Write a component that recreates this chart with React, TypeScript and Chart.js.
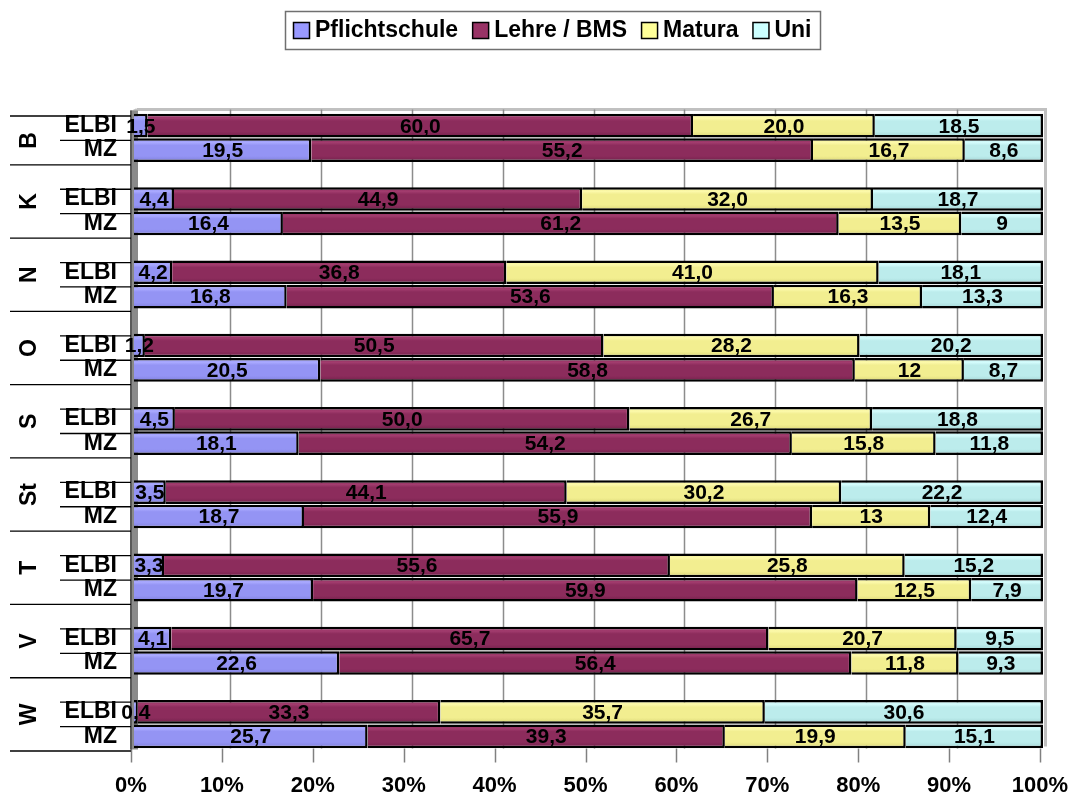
import React, { useEffect, useRef } from "react";
import { Chart, registerables } from "chart.js";

Chart.register(...registerables);

const regions = ["B", "K", "N", "O", "S", "St", "T", "V", "W"];
const rowKinds = ["ELBI", "MZ"];
const seriesNames = ["Pflichtschule", "Lehre / BMS", "Matura", "Uni"];

const pflichtELBI = [1.5, 4.4, 4.2, 1.2, 4.5, 3.5, 3.3, 4.1, 0.4];
const lehreELBI = [60.0, 44.9, 36.8, 50.5, 50.0, 44.1, 55.6, 65.7, 33.3];
const maturaELBI = [20.0, 32.0, 41.0, 28.2, 26.7, 30.2, 25.8, 20.7, 35.7];
const uniELBI = [18.5, 18.7, 18.1, 20.2, 18.8, 22.2, 15.2, 9.5, 30.6];

const pflichtMZ = [19.5, 16.4, 16.8, 20.5, 18.1, 18.7, 19.7, 22.6, 25.7];
const lehreMZ = [55.2, 61.2, 53.6, 58.8, 54.2, 55.9, 59.9, 56.4, 39.3];
const maturaMZ = [16.7, 13.5, 16.3, 12, 15.8, 13, 12.5, 11.8, 19.9];
const uniMZ = [8.6, 9, 13.3, 8.7, 11.8, 12.4, 7.9, 9.3, 15.1];

const FONT = "'Liberation Sans', Arial, sans-serif";
const legendColors = ["#9999ff", "#993366", "#ffff99", "#ccffff"];
const shades = [
  ["#a9a9ff", "#9494f4", "#7e7edb"],
  ["#a23c6e", "#8c2c5c", "#71204a"],
  ["#fcf9aa", "#f2ee90", "#d8d476"],
  ["#d4fcfc", "#bcecec", "#a2d4d4"],
];

// Build rows: B-ELBI, B-MZ, (blank), K-ELBI, K-MZ, ...
const elbiSeries = [pflichtELBI, lehreELBI, maturaELBI, uniELBI];
const mzSeries = [pflichtMZ, lehreMZ, maturaMZ, uniMZ];
const rowLabels: string[] = [];
const rawRows: (number[] | null)[] = [];
const rowIsElbi: boolean[] = [];
regions.forEach((_, g) => {
  if (g > 0) {
    rowLabels.push("");
    rawRows.push(null);
    rowIsElbi.push(false);
  }
  rowLabels.push(rowKinds[0]);
  rawRows.push(elbiSeries.map((s) => s[g]));
  rowIsElbi.push(true);
  rowLabels.push(rowKinds[1]);
  rawRows.push(mzSeries.map((s) => s[g]));
  rowIsElbi.push(false);
});

function fmt(v: number, elbi: boolean) {
  const s = elbi ? v.toFixed(1) : String(v);
  return s.replace(".", ",");
}

const BAR_PCT = 0.97;

function bg(si: number) {
  return (c: any) => {
    const chart = c.chart;
    const ys = chart.scales && chart.scales.y;
    if (!chart.chartArea || !ys || c.dataIndex == null) return shades[si][1];
    const slot = (ys.bottom - ys.top) / rowLabels.length;
    const yc = ys.getPixelForValue(c.dataIndex);
    const h = slot * BAR_PCT;
    const g = chart.ctx.createLinearGradient(0, yc - h / 2, 0, yc + h / 2);
    g.addColorStop(0, shades[si][1]);
    g.addColorStop(0.18, shades[si][0]);
    g.addColorStop(0.3, shades[si][1]);
    g.addColorStop(0.75, shades[si][1]);
    g.addColorStop(1, shades[si][2]);
    return g;
  };
}

const decoPlugin = {
  id: "deco",
  beforeDatasetsDraw(chart: any) {
    const { ctx, chartArea } = chart;
    const xs = chart.scales.x;
    ctx.save();
    // plot border (3D back wall outline)
    ctx.strokeStyle = "#c0c0c0";
    ctx.lineWidth = 3;
    ctx.beginPath();
    ctx.moveTo(137, chartArea.top - 4);
    ctx.lineTo(chartArea.right + 2.5, chartArea.top - 4);
    ctx.lineTo(chartArea.right + 2.5, chartArea.bottom - 2);
    ctx.stroke();
    ctx.beginPath();
    ctx.moveTo(131, chartArea.top - 1);
    ctx.lineTo(137, chartArea.top - 4);
    ctx.stroke();
    // gridlines on back wall
    ctx.strokeStyle = "#8c8c8c";
    ctx.lineWidth = 1.5;
    for (let v = 10; v < 100; v += 10) {
      const x = Math.round(xs.getPixelForValue(v) + 5) + 0.5;
      ctx.beginPath();
      ctx.moveTo(x, chartArea.top - 4);
      ctx.lineTo(x, chartArea.bottom);
      ctx.stroke();
    }
    // tick marks
    ctx.strokeStyle = "#808080";
    for (let v = 0; v <= 100; v += 10) {
      const x = Math.round(xs.getPixelForValue(v) - 3) + 0.5;
      ctx.beginPath();
      ctx.moveTo(x, chartArea.bottom);
      ctx.lineTo(x, chartArea.bottom + 14);
      ctx.stroke();
    }
    // left side wall
    ctx.fillStyle = "#8a8a8a";
    ctx.fillRect(130, chartArea.top - 3, 8, chartArea.bottom - chartArea.top + 4);
    ctx.fillStyle = "#5a5a5a";
    ctx.fillRect(130, chartArea.top - 3, 2, chartArea.bottom - chartArea.top + 4);
    ctx.restore();
  },
  afterDatasetsDraw(chart: any) {
    const { ctx } = chart;
    ctx.save();
    ctx.font = `bold 21px ${FONT}`;
    ctx.fillStyle = "#000";
    ctx.textAlign = "center";
    ctx.textBaseline = "middle";
    chart.data.datasets.forEach((ds: any, di: number) => {
      const meta = chart.getDatasetMeta(di);
      meta.data.forEach((el: any, i: number) => {
        const raw = rawRows[i];
        if (!raw) return;
        const { x, y, base } = el.getProps(["x", "y", "base"], true);
        ctx.fillText(fmt(raw[di], rowIsElbi[i]), (x + base) / 2, y + 1);
      });
    });
    ctx.restore();
  },
  afterDraw(chart: any) {
    const { ctx } = chart;
    const ys = chart.scales.y;
    const slot = (ys.bottom - ys.top) / rowLabels.length;
    const by = (i: number) => ys.top + i * slot + 2.5;
    ctx.save();
    // category lines
    ctx.strokeStyle = "#000";
    ctx.lineWidth = 1.3;
    const full = [0];
    for (let g = 0; g < regions.length; g++) full.push(2 + 3 * g);
    const sub = [1];
    for (let g = 1; g < regions.length; g++) sub.push(3 * g, 3 * g + 1);
    full.forEach((i) => {
      ctx.beginPath();
      ctx.moveTo(10, by(i));
      ctx.lineTo(131, by(i));
      ctx.stroke();
    });
    sub.forEach((i) => {
      ctx.beginPath();
      ctx.moveTo(60, by(i));
      ctx.lineTo(131, by(i));
      ctx.stroke();
    });
    // group labels
    ctx.font = `bold 23px ${FONT}`;
    ctx.fillStyle = "#000";
    ctx.textAlign = "center";
    ctx.textBaseline = "middle";
    regions.forEach((r, g) => {
      const idx = g === 0 ? 1 : 3 * g + 0.5;
      ctx.save();
      ctx.translate(29, by(idx));
      ctx.rotate(-Math.PI / 2);
      ctx.fillText(r, 0, 1);
      ctx.restore();
    });
    // legend
    ctx.strokeStyle = "#707070";
    ctx.lineWidth = 1.5;
    ctx.strokeRect(285.5, 11.5, 535, 38);
    ctx.font = `bold 23px ${FONT}`;
    ctx.textAlign = "left";
    let x = 293;
    seriesNames.forEach((n, i) => {
      ctx.fillStyle = legendColors[i];
      ctx.fillRect(x, 22, 16, 16);
      ctx.strokeStyle = "#000";
      ctx.lineWidth = 1.5;
      ctx.strokeRect(x + 0.5, 22.5, 16, 16);
      ctx.fillStyle = "#000";
      ctx.fillText(n, x + 22, 31);
      x += 22 + ctx.measureText(n).width + 14;
    });
    ctx.restore();
  },
};

export default function App() {
  const ref = useRef<HTMLCanvasElement | null>(null);
  useEffect(() => {
    document.body.style.margin = "0";
    document.body.style.overflow = "hidden";
    const canvas = ref.current;
    if (!canvas) return;
    const datasets = seriesNames.map((name, si) => ({
      label: name,
      data: rawRows.map((r) => {
        if (!r) return null;
        const sum = r.reduce((a, b) => a + b, 0);
        return (r[si] / sum) * 100;
      }),
      backgroundColor: bg(si),
      borderColor: "#000",
      borderWidth: 2.5,
      barPercentage: BAR_PCT,
      categoryPercentage: 1,
    }));
    const chart = new Chart(canvas, {
      type: "bar",
      data: { labels: rowLabels, datasets },
      options: {
        indexAxis: "y",
        responsive: false,
        animation: false,
        devicePixelRatio: 1,
        layout: { padding: { top: 113.5, right: 26, left: 0, bottom: 0 } },
        plugins: { legend: { display: false }, tooltip: { enabled: false } },
        scales: {
          x: {
            type: "linear",
            stacked: true,
            min: 0,
            max: 100,
            grid: { display: false, drawTicks: false },
            border: { display: false },
            ticks: {
              stepSize: 10,
              callback: (v: any) => v + "%",
              font: { family: FONT, size: 22, weight: "bold" },
              color: "#000",
              padding: 24,
              labelOffset: -3,
              maxRotation: 0,
              autoSkip: false,
            },
            afterFit: (s: any) => {
              s.height = 794 - 748.5;
              s.paddingLeft = 0;
              s.paddingRight = 0;
            },
          },
          y: {
            type: "category",
            stacked: true,
            grid: { display: false, drawTicks: false },
            border: { display: false },
            ticks: {
              font: { family: FONT, size: 23, weight: "bold" },
              color: "#000",
              padding: 17,
              autoSkip: false,
            },
            afterFit: (s: any) => {
              s.width = 134;
            },
          },
        },
      },
      plugins: [decoPlugin],
    });
    return () => chart.destroy();
  }, []);
  return (
    <div style={{ width: 1069, height: 794, position: "relative" }}>
      <canvas ref={ref} width={1069} height={794} style={{ width: 1069, height: 794, display: "block" }} />
    </div>
  );
}
